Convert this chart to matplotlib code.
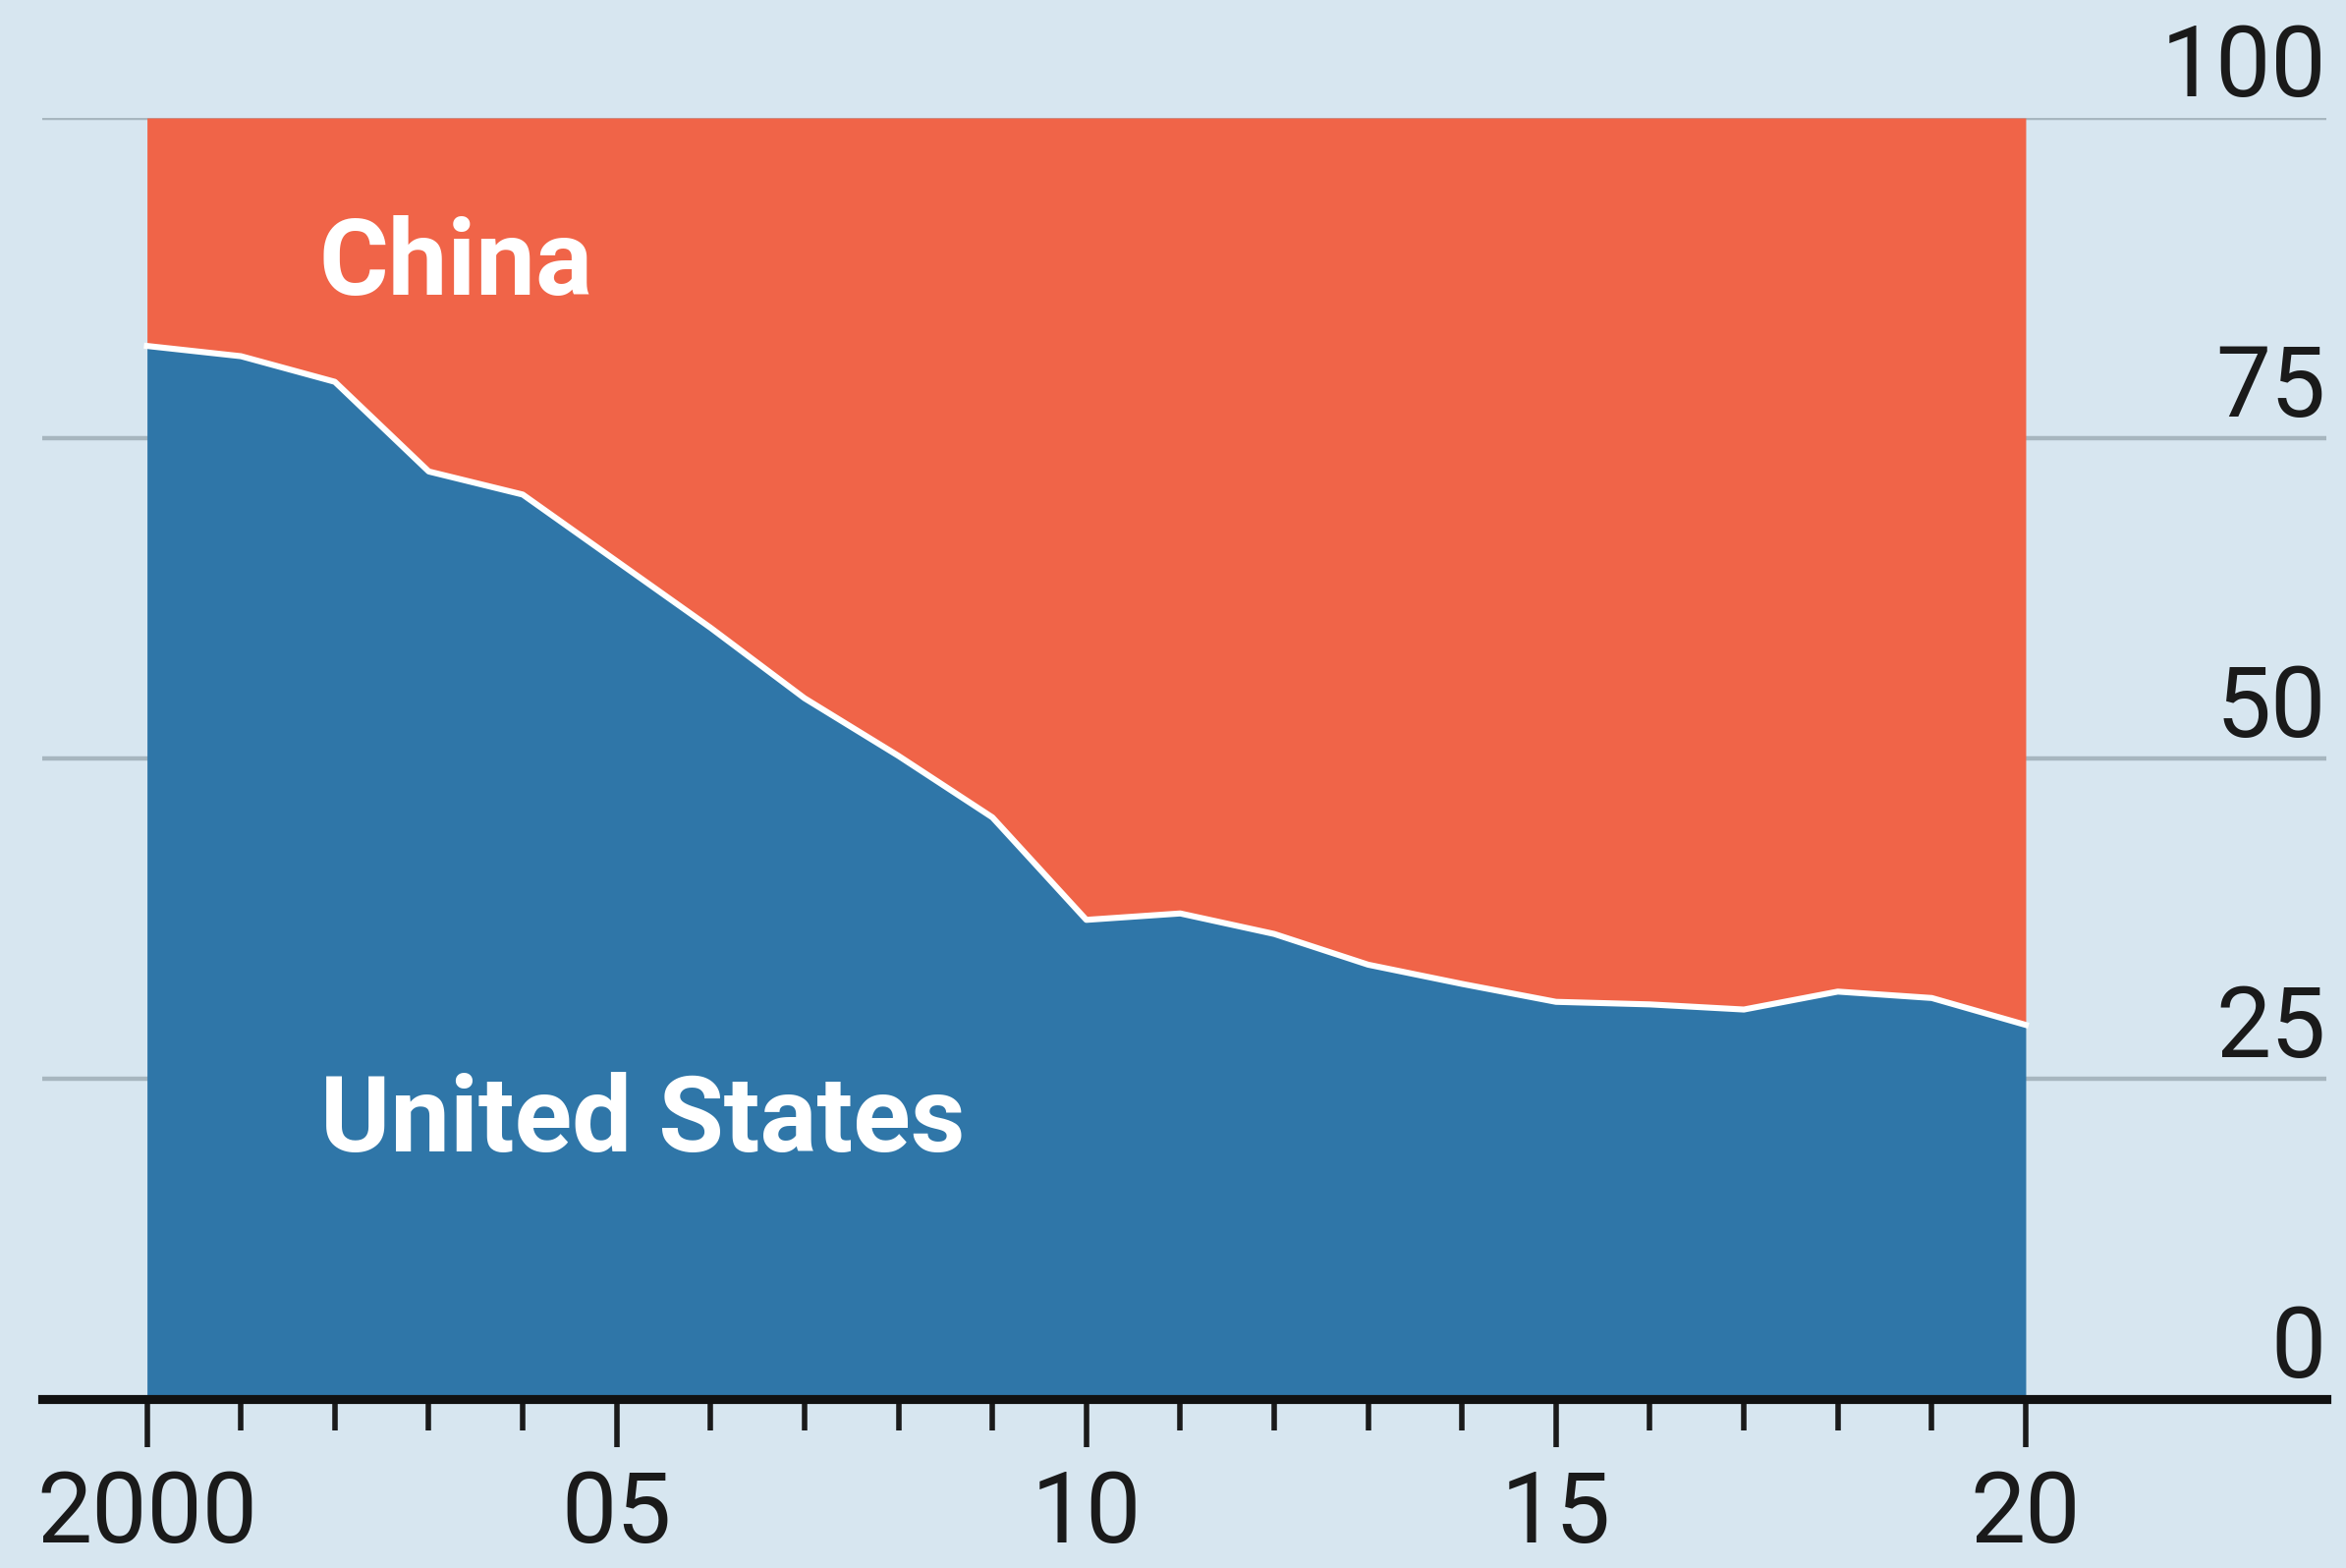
import numpy as np
import matplotlib.pyplot as plt
from matplotlib.ticker import FixedLocator

# Share of total, %
years = list(range(2000, 2021))
us_share = [82.2, 81.4, 79.4, 72.4, 70.6, 65.4, 60.2, 54.7, 50.2, 45.4, 37.4,
            37.9, 36.3, 33.9, 32.4, 31.0, 30.8, 30.4, 31.8, 31.3, 29.2]
china_share = [100 - v for v in us_share]

x_major = [2000, 2005, 2010, 2015, 2020]
x_labels = ["2000", "05", "10", "15", "20"]
y_ticks = [0, 25, 50, 75, 100]

bg = "#d7e6f0"
red = "#f06448"
blue = "#2f76a8"

plt.rcParams['font.family'] = ['Roboto', 'DejaVu Sans']

fig = plt.figure(figsize=(11.94, 7.98), dpi=200, facecolor=bg)
ax = fig.add_axes([0.018, 0.1078, 0.9736, 0.817])
ax.set_facecolor(bg)

# gridlines behind the areas
for v in y_ticks[1:]:
    ax.axhline(v, color="#a7b6bf", lw=1.6, zorder=1)

us = np.array(us_share)
ch = np.array(china_share)
ax.fill_between(years, 0, us, color=blue, lw=0, zorder=2)
ax.fill_between(years, us, us + ch, color=red, lw=0, zorder=2)
ax.plot(years, us, color="white", lw=2.2, zorder=3)

ax.set_xlim(1998.885, 2023.2)
ax.set_ylim(0, 100)

# y labels sit above the gridlines at the right edge
for v in y_ticks:
    ax.annotate(str(v), xy=(1, v), xycoords=("axes fraction", "data"),
                xytext=(0, 8), textcoords="offset points",
                ha="right", va="baseline", fontsize=36,
                color="#1a1a1a")
ax.set_yticks([])

ax.xaxis.set_major_locator(FixedLocator(x_major))
ax.xaxis.set_minor_locator(FixedLocator(years))
ax.set_xticklabels(x_labels)
ax.tick_params(axis="x", which="major", length=17.6, width=2.0, color="#1a1a1a",
               labelsize=36, labelcolor="#1a1a1a", pad=8)
ax.tick_params(axis="x", which="minor", length=11.5, width=2.0, color="#1a1a1a")

for s in ["left", "right", "top"]:
    ax.spines[s].set_visible(False)
ax.spines["bottom"].set_linewidth(3.3)
ax.spines["bottom"].set_color("#111111")
ax.spines["bottom"].set_zorder(4)

ax.text(2001.83, 86.2, "China", color="white", fontsize=39, fontweight="bold",
        ha="left", va="baseline", zorder=5)
ax.text(2001.85, 19.3, "United States", color="white", fontsize=39, fontweight="bold",
        ha="left", va="baseline", zorder=5)

fig.savefig("out.png", dpi=200, facecolor=bg)
